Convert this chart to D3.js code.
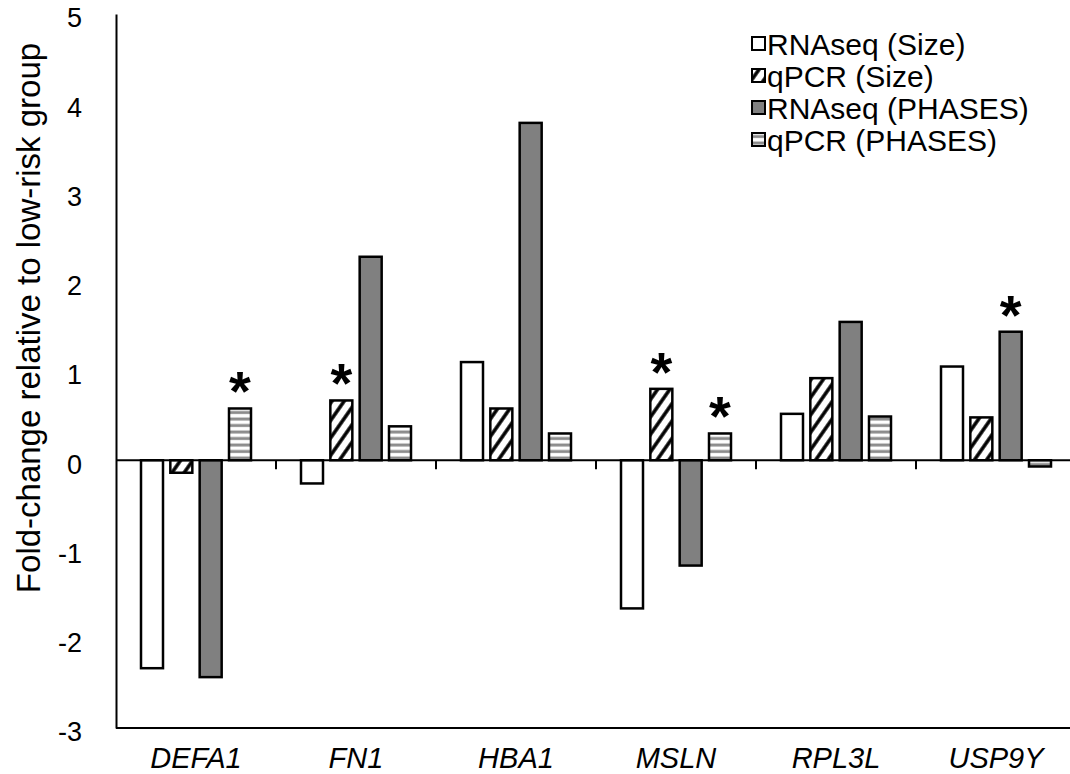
<!DOCTYPE html>
<html>
<head>
<meta charset="utf-8">
<script src="https://cdn.jsdelivr.net/npm/d3@7"></script>
<style>
    body { margin: 0; background: #fff; }
    text { font-family: "Liberation Sans", Arial, sans-serif; }
</style>
</head>
<body>
<div id="chart"></div>
<script>
// data
const genes = ['DEFA1', 'FN1', 'HBA1', 'MSLN', 'RPL3L', 'USP9Y'];
const seriesNames = ['RNAseq (Size)', 'qPCR (Size)', 'RNAseq (PHASES)', 'qPCR (PHASES)'];
const rnaseqSize   = [-2.33, -0.26, 1.10, -1.66, 0.52, 1.05];
const qpcrSize     = [-0.14, 0.67, 0.58, 0.80, 0.92, 0.48];
const rnaseqPhases = [-2.43, 2.28, 3.78, -1.18, 1.55, 1.44];
const qpcrPhases   = [0.58, 0.38, 0.30, 0.30, 0.49, -0.07];
// significance stars
const stars = [
    {gene: 'DEFA1', series: 'qPCR (PHASES)'},
    {gene: 'FN1', series: 'qPCR (Size)'},
    {gene: 'MSLN', series: 'qPCR (Size)'},
    {gene: 'MSLN', series: 'qPCR (PHASES)'},
    {gene: 'USP9Y', series: 'RNAseq (PHASES)'}
];
const yTicks = [-3, -2, -1, 0, 1, 2, 3, 4, 5];

const allValues = [rnaseqSize, qpcrSize, rnaseqPhases, qpcrPhases];
const rows = [];
genes.forEach((g, i) => {
    seriesNames.forEach((s, j) => rows.push({gene: g, series: s, value: allValues[j][i]}));
});

const width = 1070, height = 774;
const margin = {left: 116, top: 14, bottom: 46};

const svg = d3.select('#chart').append('svg')
    .attr('width', width)
    .attr('height', height);

// patterns
const defs = svg.append('defs');
defs.append('pattern')
    .attr('id', 'diag')
    .attr('patternUnits', 'userSpaceOnUse')
    .attr('width', 10).attr('height', 10)
    .attr('patternTransform', 'rotate(35)')
    .call(p => {
        p.append('rect').attr('width', 10).attr('height', 10).attr('fill', '#fff');
        p.append('line').attr('x1', 2).attr('x2', 2).attr('y1', 0).attr('y2', 10)
            .attr('stroke', '#000').attr('stroke-width', 3.5);
    });
defs.append('pattern')
    .attr('id', 'horiz')
    .attr('patternUnits', 'userSpaceOnUse')
    .attr('width', 10).attr('height', 6.5)
    .call(p => {
        p.append('rect').attr('width', 10).attr('height', 6.5).attr('fill', '#fff');
        p.append('line').attr('x1', 0).attr('x2', 10).attr('y1', 3).attr('y2', 3)
            .attr('stroke', '#8c8c8c').attr('stroke-width', 3);
    });

const fills = {
    'RNAseq (Size)': '#fff',
    'qPCR (Size)': 'url(#diag)',
    'RNAseq (PHASES)': '#808080',
    'qPCR (PHASES)': 'url(#horiz)'
};

// scales
const xScale = d3.scaleBand().domain(genes).range([margin.left, margin.left + 160 * genes.length]);
const xInner = d3.scaleBand().domain(seriesNames).range([25, 135]).paddingInner(0.25);
const yScale = d3.scaleLinear().domain([-3, 5]).range([height - margin.bottom, margin.top]);

// bottom border line
svg.append('line')
    .attr('x1', margin.left).attr('x2', width)
    .attr('y1', yScale(-3)).attr('y2', yScale(-3))
    .attr('stroke', '#000').attr('stroke-width', 2);

// y axis
const yAxisG = svg.append('g')
    .attr('transform', `translate(${margin.left},0)`)
    .call(d3.axisLeft(yScale).tickValues(yTicks).tickSize(0).tickSizeOuter(0).tickPadding(34)
        .tickFormat(d => String(d)));
yAxisG.select('.domain').attr('stroke', '#000').attr('stroke-width', 2);
yAxisG.selectAll('text')
    .attr('font-size', 27)
    .attr('dy', '0.48em')
    .attr('font-family', '"Liberation Sans", Arial, sans-serif')
    .attr('fill', '#000');

svg.append('text')
    .attr('transform', 'translate(40, 318) rotate(-90)')
    .attr('text-anchor', 'middle')
    .attr('font-size', 33)
    .text('Fold-change relative to low-risk group');

// bars
svg.append('g').selectAll('rect')
    .data(rows)
    .join('rect')
    .attr('x', d => xScale(d.gene) + xInner(d.series))
    .attr('width', xInner.bandwidth())
    .attr('y', d => yScale(Math.max(0, d.value)))
    .attr('height', d => Math.abs(yScale(d.value) - yScale(0)))
    .attr('fill', d => fills[d.series])
    .attr('stroke', '#000')
    .attr('stroke-width', 2.5);

// zero axis with category ticks
svg.append('line')
    .attr('x1', margin.left).attr('x2', width)
    .attr('y1', yScale(0)).attr('y2', yScale(0))
    .attr('stroke', '#000').attr('stroke-width', 2);
svg.append('g').selectAll('line')
    .data(genes.slice(1))
    .join('line')
    .attr('x1', d => xScale(d)).attr('x2', d => xScale(d))
    .attr('y1', yScale(0)).attr('y2', yScale(0) + 9)
    .attr('stroke', '#000').attr('stroke-width', 2);

// category labels
svg.append('g').selectAll('text')
    .data(genes)
    .join('text')
    .attr('x', d => xScale(d) + xScale.bandwidth() / 2)
    .attr('y', 768)
    .attr('text-anchor', 'middle')
    .attr('font-size', 29)
    .attr('font-style', 'italic')
    .text(d => d);

// significance stars
const valueOf = (g, s) => rows.find(r => r.gene === g && r.series === s).value;
svg.append('g').selectAll('text')
    .data(stars)
    .join('text')
    .attr('x', d => xScale(d.gene) + xInner(d.series) + xInner.bandwidth() / 2)
    .attr('y', d => yScale(Math.max(0, valueOf(d.gene, d.series))) + 2)
    .attr('text-anchor', 'middle')
    .attr('font-size', 56)
    .attr('font-weight', 'bold')
    .text('*');

// legend
const legend = svg.append('g').attr('transform', 'translate(752, 44)');
const li = legend.selectAll('g')
    .data(seriesNames)
    .join('g')
    .attr('transform', (d, i) => `translate(0, ${i * 32})`);
li.append('rect')
    .attr('x', 0).attr('y', -7)
    .attr('width', 13).attr('height', 13)
    .attr('fill', d => fills[d])
    .attr('stroke', '#000')
    .attr('stroke-width', 2);
li.append('text')
    .attr('x', 15).attr('y', 11)
    .attr('font-size', 30)
    .text(d => d);
</script>
</body>
</html>
